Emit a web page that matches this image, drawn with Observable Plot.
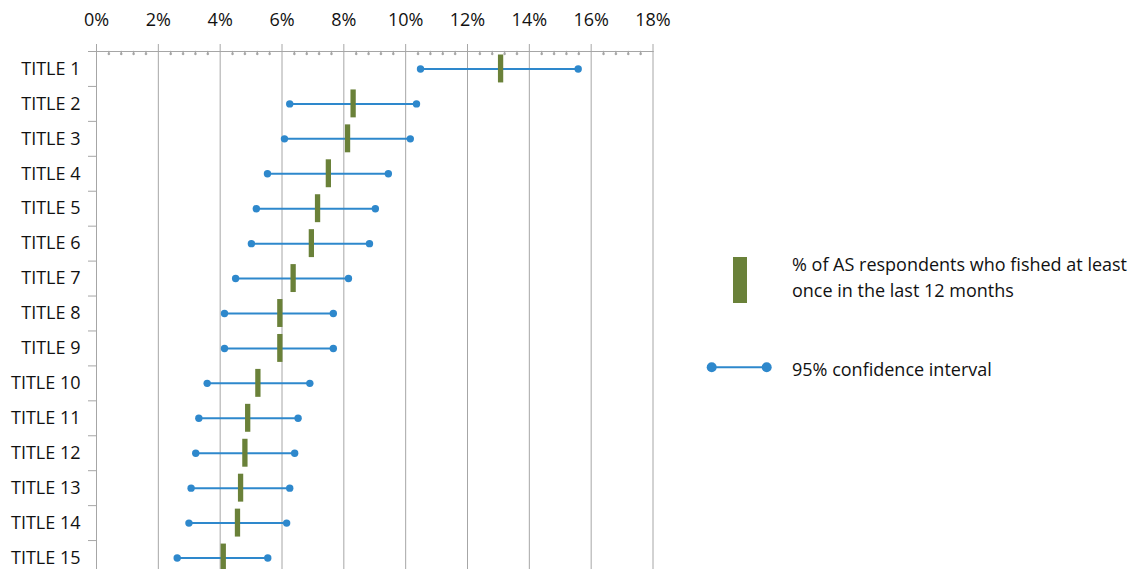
<!DOCTYPE html>
<html>
<head>
<meta charset="utf-8">
<script src="https://cdn.jsdelivr.net/npm/d3@7"></script>
<script src="https://cdn.jsdelivr.net/npm/@observablehq/plot@0.6"></script>
<style>
  html, body { margin: 0; padding: 0; background: #fff; overflow: hidden; }
  #wrap { position: relative; width: 1136px; height: 569px; font-family: "Open Sans", sans-serif; color: #111; }
  #chart svg { display: block; }
  .legend-item { position: absolute; display: flex; align-items: flex-start; font-size: 18px; line-height: 26px; }
  .legend-item svg { display: block; }
</style>
</head>
<body>
<div id="wrap">
  <div id="chart"></div>
  <div class="legend-item" id="leg-est" style="left:733px; top:251px;">
    <svg width="14" height="56"><rect x="0" y="6" width="14" height="46" fill="#6a8139"></rect></svg>
    <div style="margin-left:45px; width:360px;">% of AS respondents who fished at least once in the last 12 months</div>
  </div>
  <div class="legend-item" id="leg-ci" style="left:705px; top:356px;">
    <svg width="70" height="24"><line x1="6.7" x2="61.7" y1="11.3" y2="11.3" stroke="#2e88cc" stroke-width="2"></line><circle cx="6.7" cy="11.3" r="5" fill="#2e88cc"></circle><circle cx="61.7" cy="11.3" r="5" fill="#2e88cc"></circle></svg>
    <div style="margin-left:17px;">95% confidence interval</div>
  </div>
</div>
<script>
// Categories, point estimates and 95% confidence bounds (percent)
const titles = ["TITLE 1", "TITLE 2", "TITLE 3", "TITLE 4", "TITLE 5", "TITLE 6", "TITLE 7", "TITLE 8",
                "TITLE 9", "TITLE 10", "TITLE 11", "TITLE 12", "TITLE 13", "TITLE 14", "TITLE 15"];
const estimate = [13.07, 8.30, 8.12, 7.50, 7.15, 6.95, 6.36, 5.93, 5.93, 5.22, 4.89, 4.80, 4.66, 4.56, 4.10];
const lower    = [10.48, 6.25, 6.08, 5.53, 5.17, 5.01, 4.50, 4.14, 4.14, 3.58, 3.31, 3.21, 3.06, 2.99, 2.61];
const upper    = [15.58, 10.35, 10.15, 9.44, 9.02, 8.83, 8.15, 7.66, 7.66, 6.90, 6.52, 6.41, 6.25, 6.15, 5.54];

// Axis ticks
const majorTicks = [0, 2, 4, 6, 8, 10, 12, 14, 16, 18];
const minorTicks = d3.range(0, 18.001, 0.4).filter(v => Math.abs(v / 2 - Math.round(v / 2)) > 1e-6);

const rows = titles.map((title, i) => ({title, estimate: estimate[i], lower: lower[i], upper: upper[i]}));

const width = 1136, height = 575, marginTop = 51, marginBottom = 0, marginLeft = 96, marginRight = 483.5;
const step = (height - marginTop - marginBottom) / titles.length;

const grid = "#a6a6a6", blue = "#2e88cc", green = "#6a8139";

const chart = Plot.plot({
  width, height, marginTop, marginBottom, marginLeft, marginRight,
  style: {fontFamily: "Open Sans, sans-serif", fontSize: "18px", color: "#111", background: "#fff"},
  x: {domain: [0, 18]},
  y: {domain: titles, type: "band", padding: 0, round: false},
  marks: [
    // vertical gridlines (the 0% line doubles as the category axis line)
    Plot.ruleX(majorTicks, {stroke: grid, strokeWidth: 1}),
    // top axis line
    Plot.frame({anchor: "top", stroke: grid}),
    // top axis: major ticks and percent labels
    Plot.axisX({anchor: "top", ticks: majorTicks, tickSize: 8, tickPadding: 18,
                tickFormat: d => d + "%", stroke: grid, fill: "#111", fontSize: 18, label: null}),
    // minor ticks hanging below the top axis
    Plot.vector(minorTicks, {x: d => d, frameAnchor: "top", length: 3, rotate: 180, anchor: "start", stroke: grid}),
    // category boundary ticks
    Plot.axisY({ticks: titles, tickSize: 8, text: null, dy: step / 2, stroke: grid, label: null}),
    Plot.axisY({ticks: [titles[0]], tickSize: 8, text: null, dy: -step / 2, stroke: grid, label: null}),
    // category labels
    Plot.axisY({ticks: titles, tickSize: 0, tickPadding: 16, fill: "#111", fontSize: 18, label: null}),
    // confidence intervals
    Plot.ruleY(rows, {y: "title", x1: "lower", x2: "upper", stroke: blue, strokeWidth: 2}),
    Plot.dot(rows, {x: "lower", y: "title", r: 3.7, fill: blue}),
    Plot.dot(rows, {x: "upper", y: "title", r: 3.7, fill: blue}),
    // point estimates
    Plot.tickX(rows, {x: "estimate", y: "title", stroke: green, strokeWidth: 5.3, inset: 3.5})
  ]
});
document.getElementById("chart").appendChild(chart);
</script>
</body>
</html>
